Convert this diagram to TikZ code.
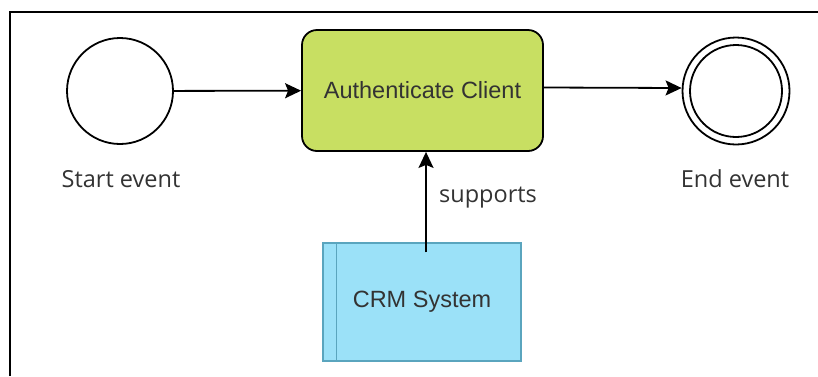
\documentclass[tikz,border=0pt]{standalone}
\usepackage{fontspec}
\setmainfont{Open Sans}
\newfontfamily\boxfont{Liberation Sans}
\usetikzlibrary{arrows.meta}
\definecolor{taskgreen}{HTML}{C8DF62}
\definecolor{sysblue}{HTML}{9BE1F8}
\definecolor{sysedge}{HTML}{5AA5BE}
\definecolor{inkgray}{HTML}{333333}
\begin{document}
\begin{tikzpicture}[x=1pt,y=-1pt,
  event/.style={circle, draw=black, line width=1.8pt, fill=white, inner sep=0pt},
  lbl/.style={inner sep=0pt, text=inkgray, font=\fontsize{23.5}{28}\selectfont},
  task/.style={draw=black, line width=1.8pt, fill=taskgreen, rounded corners=15pt,
    minimum width=241pt, minimum height=121pt, inner sep=0pt, text=inkgray,
    font=\boxfont\fontsize{23.5}{28}\selectfont},
  sysbox/.style={draw=sysedge, line width=1.5pt, fill=sysblue,
    minimum width=198pt, minimum height=118pt, inner sep=0pt, text=inkgray,
    font=\boxfont\fontsize{23.5}{28}\selectfont},
  flow/.style={line width=1.8pt, -{Stealth[length=16pt, width=15pt, inset=3pt]}}
]
\useasboundingbox (0,0) rectangle (818,376);
% frame
\draw[line width=2pt] (10,376) -- (10,12) -- (818,12);

% start event
\node[event, minimum size=106pt] (start) at (120,91) {};
\node[lbl] (startlbl) at (121,179) {Start event};

% task
\node[task] (task) at (422.5,90.5) {Authenticate Client};

% end event (double ring)
\node[event, minimum size=107pt] (end) at (736,91) {};
\node[event, minimum size=92pt] (endin) at (end.center) {};
\node[lbl] (endlbl) at (735,179) {End event};

% supporting system
\node[sysbox] (crm) at (422,302) {CRM System};
\draw[sysedge, line width=1.5pt] ([xshift=14pt]crm.north west) -- ([xshift=14pt]crm.south west);

% sequence flows
\draw[flow] (start) -- (task);
\draw[flow] ([yshift=3pt]task.east) -- ([yshift=3pt]end.west);

% association
\draw[flow] ([xshift=4pt,yshift=-10pt]crm.north) -- ([xshift=3.5pt]task.south);
\node[lbl] (suplbl) at (488,198) {supports};
\end{tikzpicture}
\end{document}
